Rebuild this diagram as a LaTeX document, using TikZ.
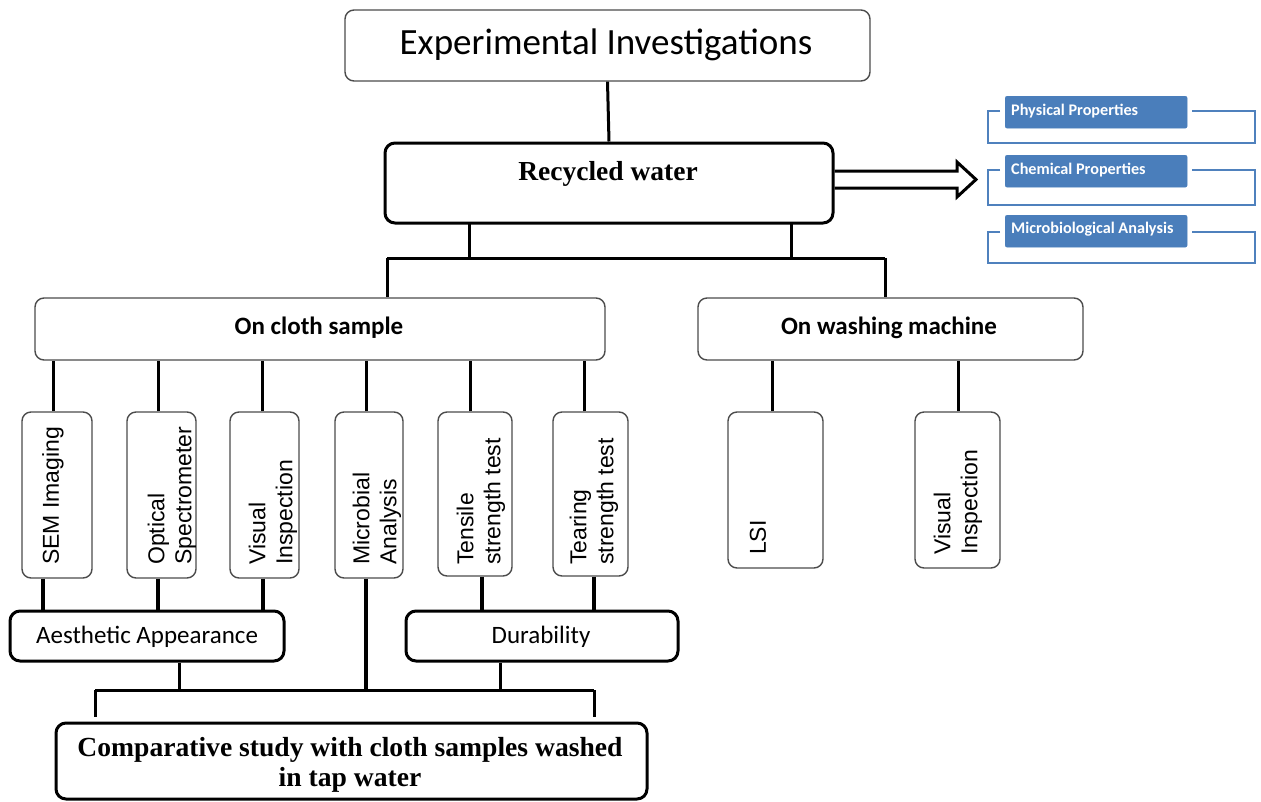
\documentclass[tikz,border=0pt]{standalone}
\usepackage{fontspec}
\setmainfont{Liberation Serif}
\newfontfamily\calfont{Carlito}
\newfontfamily\arifont{Liberation Sans}
\definecolor{bfill}{RGB}{74,126,187}
\definecolor{bline}{RGB}{79,129,189}
\begin{document}
\begin{tikzpicture}[x=1pt,y=-1pt,
 thinbox/.style={draw=black!70, line width=1.4, rounded corners=9, fill=white, inner sep=0},
 thickbox/.style={draw=black, line width=3, rounded corners=10, fill=white, inner sep=0},
 conn/.style={line width=3, draw=black},
 fatconn/.style={line width=4.5, draw=black},
 vtext/.style={rotate=90, anchor=west, inner sep=0, align=left, font=\arifont\fontsize{23}{27}\selectfont},
 bluebox/.style={fill=bfill, draw=bfill, rounded corners=2, inner sep=0},
 bracket/.style={draw=bline, line width=2.6},
 btext/.style={text=white, font=\calfont\bfseries\fontsize{16.2}{18}\selectfont, anchor=base west, inner sep=0},
 ctext/.style={font=\calfont\fontsize{25}{30}\selectfont, anchor=base, inner sep=0},
 cbtext/.style={font=\calfont\bfseries\fontsize{25}{30}\selectfont, anchor=base, inner sep=0}
]
\useasboundingbox (0,0) rectangle (1261,801);

% top boxes
\node[thinbox, minimum width=525, minimum height=71] (exp) at (607.5,45.5) {};
\node[font=\calfont\fontsize{37}{42}\selectfont, anchor=base, inner sep=0] (expt) at (606,54) {Experimental Investigations};
\node[thickbox, minimum width=448, minimum height=80] (rw) at (609,183) {};
\node[font=\bfseries\fontsize{27.5}{30}\selectfont, anchor=base, inner sep=0] (rwt) at (608,180) {Recycled water};

% second level
\node[thinbox, minimum width=570, minimum height=62] (cloth) at (320,329) {};
\node[cbtext] (clotht) at (319,334) {On cloth sample};
\node[thinbox, minimum width=385, minimum height=62] (wash) at (890.5,329) {};
\node[cbtext] (washt) at (889,334) {On washing machine};

% small vertical boxes
\node[thinbox, minimum width=70, minimum height=166] (sem) at (57,495) {};
\node[thinbox, minimum width=69, minimum height=166] (opt) at (161.5,495) {};
\node[thinbox, minimum width=69, minimum height=166] (vis) at (264.5,495) {};
\node[thinbox, minimum width=68, minimum height=166] (mic) at (369,495) {};
\node[thinbox, minimum width=74, minimum height=164] (ten) at (475,494) {};
\node[thinbox, minimum width=75, minimum height=164] (tea) at (590.5,494) {};
\node[thinbox, minimum width=95, minimum height=156] (lsi) at (775.5,490) {};
\node[thinbox, minimum width=85, minimum height=156] (vis2) at (957.5,490) {};

\node[vtext] (semt) at (53,565) {SEM Imaging};
\node[vtext] (optt) at (172,565) {Optical\\Spectrometer};
\node[vtext] (vist) at (273,565) {Visual\\Inspection};
\node[vtext] (mict) at (377,565) {Microbial\\Analysis};
\node[vtext] (tent) at (481,565) {Tensile\\strength test};
\node[vtext] (teat) at (594,565) {Tearing\\strength test};
\node[vtext] (lsit) at (758,555) {LSI};
\node[vtext] (vis2t) at (958,555) {Visual\\Inspection};

% grouping boxes
\node[thickbox, minimum width=274, minimum height=50] (aes) at (147,636) {};
\node[ctext] (aest) at (147,643) {Aesthetic Appearance};
\node[thickbox, minimum width=272, minimum height=50] (dur) at (542,636) {};
\node[ctext] (durt) at (541,643) {Durability};
\node[thickbox, minimum width=591, minimum height=76] (comp) at (351.5,761) {};
\node[font=\bfseries\fontsize{27.6}{30}\selectfont, align=center, inner sep=0] (compt) at (350,765) {Comparative study with cloth samples washed\\in tap water};

% connectors top
\draw[conn] (exp.south) -- (rw.north);
\coordinate (b1) at (387,258);
\coordinate (b2) at (885,258);
\draw[conn] ([xshift=-140,yshift=2]rw.south) -- ([xshift=-140]rw.south |- b1);
\draw[conn] ([xshift=182,yshift=2]rw.south) -- ([xshift=182]rw.south |- b2);
\draw[conn] (b1) -- (b2);
\draw[conn] (b1) -- (b1 |- cloth.north);
\draw[conn] (b2) -- (b2 |- wash.north);

% cloth to small boxes
\foreach \n/\dx in {sem/-4, opt/-3.5, vis/-2.5, mic/-3, ten/-5, tea/-6}
  \draw[conn] ([xshift=\dx]\n.north) -- ([xshift=\dx]\n.north |- cloth.south);
\draw[conn] ([xshift=-3.5]lsi.north) -- ([xshift=-3.5]lsi.north |- wash.south);
\draw[conn] ([xshift=0.5]vis2.north) -- ([xshift=0.5]vis2.north |- wash.south);

% small boxes to group boxes
\foreach \n/\dx in {sem/-14, opt/-3.5, vis/-1.5}
  \draw[fatconn] ([xshift=\dx]\n.south) -- ([xshift=\dx]\n.south |- aes.north);
\foreach \n/\dx in {ten/7, tea/3.5}
  \draw[fatconn] ([xshift=\dx]\n.south) -- ([xshift=\dx]\n.south |- dur.north);

% bottom bus
\coordinate (c1) at (95,690);
\coordinate (c2) at (594,690);
\draw[conn] ([xshift=32]aes.south) -- ([xshift=32]aes.south |- c1);
\draw[conn] ([xshift=-42]dur.south) -- ([xshift=-42]dur.south |- c1);
\draw[fatconn] ([xshift=-3]mic.south) -- ([xshift=-3]mic.south |- c1);
\draw[conn] (c1) -- (c2);
\draw[conn] (c1) -- ([yshift=5]c1 |- comp.north);
\draw[conn] (c2) -- ([yshift=5]c2 |- comp.north);

% double arrow
\path (rw.east) ++(0,-12) coordinate (a1);
\path (rw.east) ++(0,5) coordinate (a2);
\coordinate (atip) at (976,179.5);
\draw[line width=3, line join=miter] (a1) -- (a1 -| 957,0) -- (957,162) -- (atip) -- (957,197) -- (a2 -| 957,0) -- (a2);

% blue property boxes
\foreach \bt/\lt/\lb/\bl/\txt/\nm in {96/111/143/115/Physical Properties/pp, 155/170/205/174/Chemical Properties/cp, 215/232/263/233/Microbiological Analysis/ma}{
  \draw[bracket] (1000,\lt) -- (988,\lt) -- (988,\lb) -- (1255,\lb) -- (1255,\lt) -- (1192,\lt);
  \node[bluebox, minimum width=182, minimum height=32, anchor=north west] (\nm) at (1005,\bt) {};
  \node[btext] (\nm t) at (1011,\bl) {\txt};
}
\end{tikzpicture}
\end{document}
